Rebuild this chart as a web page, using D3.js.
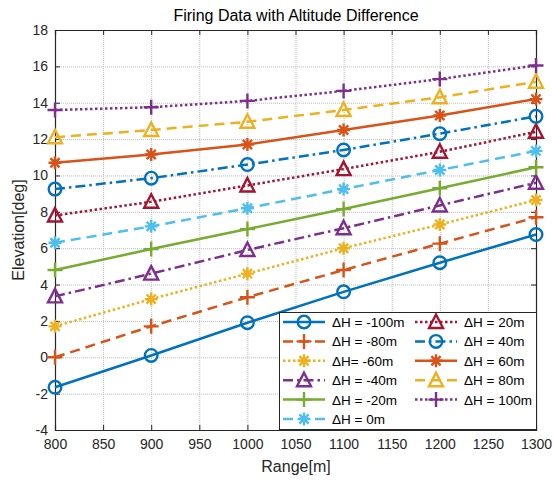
<!DOCTYPE html>
<html>
<head>
<meta charset="utf-8">
<script src="https://cdn.jsdelivr.net/npm/d3@7"></script>
<style>
  body { margin: 0; background: #fff; }
  svg { font-family: "Liberation Sans", Arial, sans-serif; }
</style>
</head>
<body>
<svg id="chart" width="554" height="482"></svg>
<script>
// ranges in m
var ranges = [800, 900, 1000, 1100, 1200, 1300];
var labels = ["\u0394H = -100m", "\u0394H = -80m", "\u0394H= -60m", "\u0394H = -40m", "\u0394H = -20m", "\u0394H = 0m",
              "\u0394H = 20m", "\u0394H = 40m", "\u0394H = 60m", "\u0394H = 80m", "\u0394H = 100m"];
// elevation [deg] per altitude difference
var dHm100 = [-1.65, 0.1, 1.9, 3.6, 5.2, 6.75];
var dHm80 = [0.0, 1.7, 3.3, 4.8, 6.25, 7.7];
var dHm60 = [1.7, 3.2, 4.6, 6.0, 7.3, 8.65];
var dHm40 = [3.35, 4.6, 5.9, 7.1, 8.35, 9.6];
var dHm20 = [4.8, 5.95, 7.05, 8.15, 9.3, 10.45];
var dH0 = [6.3, 7.2, 8.2, 9.25, 10.3, 11.35];
var dH20 = [7.8, 8.55, 9.45, 10.35, 11.3, 12.4];
var dH40 = [9.25, 9.85, 10.6, 11.4, 12.3, 13.25];
var dH60 = [10.7, 11.15, 11.7, 12.5, 13.3, 14.2];
var dH80 = [12.1, 12.5, 12.95, 13.6, 14.3, 15.15];
var dH100 = [13.6, 13.75, 14.1, 14.65, 15.3, 16.05];
var xTicks = [800, 850, 900, 950, 1000, 1050, 1100, 1150, 1200, 1250, 1300];
var yTicks = [-4, -2, 0, 2, 4, 6, 8, 10, 12, 14, 16, 18];

var allSeries = [dHm100, dHm80, dHm60, dHm40, dHm20, dH0, dH20, dH40, dH60, dH80, dH100];
var colors = ["#0072BD", "#D95319", "#EDB120", "#7E2F8E", "#77AC30", "#4DBEEE", "#A2142F",
              "#0072BD", "#D95319", "#EDB120", "#7E2F8E"];
var dashes = ["", "10,6", "2.5,2.5", "10,4,2.5,4", "", "10,6", "2.5,2.5", "10,4,2.5,4", "", "10,6", "2.5,2.5"];
var markers = ["o", "+", "*", "^", "+", "*", "^", "o", "*", "^", "+"];

var pLeft = 55, pRight = 536, pTop = 30, pBottom = 430;
var svg = d3.select("#chart");

var x = d3.scaleLinear().domain([800, 1300]).range([pLeft, pRight]);
var y = d3.scaleLinear().domain([-4, 18]).range([pBottom, pTop]);

// grid
var grid = svg.append("g").attr("stroke", "#bdbdbd").attr("stroke-width", 1).attr("stroke-dasharray", "1,1");
grid.selectAll(".gx").data(xTicks.slice(1, -1)).enter().append("line")
    .attr("x1", d => x(d) + 0.5).attr("x2", d => x(d) + 0.5).attr("y1", pTop).attr("y2", pBottom);
grid.selectAll(".gy").data(yTicks.slice(1, -1)).enter().append("line")
    .attr("y1", d => y(d) + 0.5).attr("y2", d => y(d) + 0.5).attr("x1", pLeft).attr("x2", pRight);

// axes
var fmt = d => String(d);
var axB = svg.append("g").attr("transform", `translate(0,${pBottom})`)
    .call(d3.axisBottom(x).tickValues(xTicks).tickSize(-5).tickPadding(9).tickFormat(fmt));
var axT = svg.append("g").attr("transform", `translate(0,${pTop})`)
    .call(d3.axisTop(x).tickValues(xTicks).tickSize(-5).tickFormat(""));
var axL = svg.append("g").attr("transform", `translate(${pLeft},0)`)
    .call(d3.axisLeft(y).tickValues(yTicks).tickSize(-5).tickPadding(7).tickFormat(fmt));
var axR = svg.append("g").attr("transform", `translate(${pRight},0)`)
    .call(d3.axisRight(y).tickValues(yTicks).tickSize(-5).tickFormat(""));
[axB, axT, axL, axR].forEach(function(a) {
    a.select(".domain").attr("stroke", "#262626").attr("stroke-width", 1.2);
    a.selectAll(".tick line").attr("stroke", "#262626");
    a.selectAll("text").attr("fill", "#262626").style("font-size", "14px")
        .style("font-family", "'Liberation Sans', Arial, sans-serif");
});

function drawMarker(g, type, cx, cy, color) {
    var s = g.append("g").attr("transform", `translate(${cx},${cy})`)
        .attr("stroke", color).attr("stroke-width", 2.4).attr("fill", "none");
    if (type === "o") {
        s.append("circle").attr("r", 6.3);
    } else if (type === "+") {
        s.append("path").attr("d", "M-7.5,0H7.5M0,-7.5V7.5");
    } else if (type === "*") {
        s.append("path").attr("d", "M-6.5,0H6.5M0,-6.5V6.5M-4.6,-4.6L4.6,4.6M-4.6,4.6L4.6,-4.6");
    } else if (type === "^") {
        s.append("path").attr("d", "M0,-7.5L7,6H-7Z");
    }
}

var line = d3.line().x((d, i) => x(ranges[i])).y(d => y(d));
var plot = svg.append("g");
allSeries.forEach(function(vals, k) {
    plot.append("path").attr("d", line(vals)).attr("fill", "none")
        .attr("stroke", colors[k]).attr("stroke-width", 2.5)
        .attr("stroke-dasharray", dashes[k] || null);
    vals.forEach(function(v, i) {
        drawMarker(plot, markers[k], x(ranges[i]), y(v), colors[k]);
    });
});

// legend
var lg = svg.append("g");
lg.append("rect").attr("x", 279.5).attr("y", 312.5).attr("width", 257).attr("height", 117)
    .attr("fill", "#fff").attr("stroke", "#262626").attr("stroke-width", 1);
labels.forEach(function(lab, k) {
    var col = k < 6 ? 0 : 1;
    var row = k < 6 ? k : k - 6;
    var x0 = col === 0 ? 283 : 415;
    var cy = 322 + row * 19.4;
    lg.append("line").attr("x1", x0).attr("x2", x0 + 42).attr("y1", cy).attr("y2", cy)
        .attr("stroke", colors[k]).attr("stroke-width", 2.5)
        .attr("stroke-dasharray", dashes[k] || null);
    drawMarker(lg, markers[k], x0 + 21, cy, colors[k]);
    lg.append("text").attr("x", x0 + 49).attr("y", cy + 5).text(lab)
        .attr("fill", "#000").style("font-size", "13.5px");
});

// labels
svg.append("text").attr("x", 296).attr("y", 21).attr("text-anchor", "middle")
    .style("font-size", "16px").attr("fill", "#000").text("Firing Data with Altitude Difference");
svg.append("text").attr("x", 296).attr("y", 472).attr("text-anchor", "middle")
    .style("font-size", "16px").attr("fill", "#262626").text("Range[m]");
svg.append("text").attr("transform", "translate(24,230) rotate(-90)").attr("text-anchor", "middle")
    .style("font-size", "16px").attr("fill", "#262626").text("Elevation[deg]");
</script>
</body>
</html>
